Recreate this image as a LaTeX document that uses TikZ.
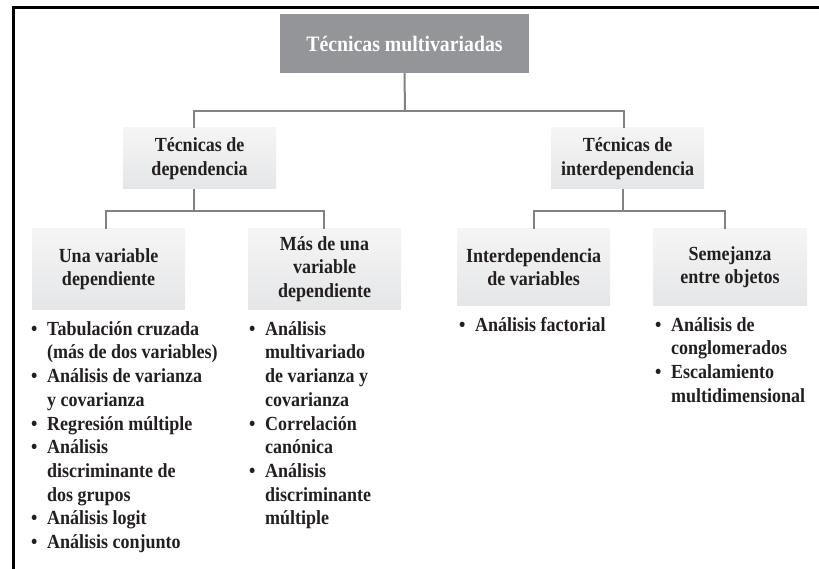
\documentclass[tikz,border=0pt]{standalone}
\usepackage{fontspec}
\setmainfont{Liberation Serif}[FakeStretch=0.9]
\usetikzlibrary{calc}
\definecolor{txt}{HTML}{231F20}
\definecolor{topfill}{HTML}{939598}
\definecolor{boxtop}{HTML}{F5F5F6}
\definecolor{boxbot}{HTML}{E5E6E7}
\definecolor{conn}{HTML}{808285}
\tikzset{
  topbox/.style={rectangle, fill=topfill, inner sep=0pt, minimum width=249pt, minimum height=59pt,
    text=white, font=\fontsize{22}{24}\selectfont\bfseries},
  catbox/.style={rectangle, top color=boxtop, bottom color=boxbot, inner sep=0pt, minimum width=153pt,
    align=center, text=txt, font=\fontsize{20}{23.5}\selectfont\bfseries},
  itemlist/.style={inner sep=0pt, anchor=north west, align=left, text=txt,
    font=\fontsize{20}{23.7}\selectfont\bfseries},
  connector/.style={draw=conn, line width=2pt},
  framebar/.style={draw=black, line width=2.2pt}
}
\newcommand{\bul}{\makebox[16pt][l]{•}}
\newcommand{\ind}{\hspace*{16pt}}
\newcommand{\firstline}{\rule{0pt}{15.5pt}}
\begin{document}
\begin{tikzpicture}[x=1pt,y=-1pt]
\useasboundingbox (0,0) rectangle (819,569);
% frame
\coordinate (fbl) at (13.5,569);
\coordinate (ftl) at (13.5,7.5);
\coordinate (ftr) at (819,7.5);
\draw[framebar] (fbl) -- (ftl) -- (ftr);

% boxes
\node[topbox] (top) at (404.5,43.5) {Técnicas multivariadas};
\node[catbox, minimum height=61pt] (dep) at (199.5,158.5) {Técnicas de\\dependencia};
\node[catbox, minimum height=61pt] (inter) at (627.5,158.5) {Técnicas de\\interdependencia};
\node[catbox, minimum height=80pt] (una) at (108.5,269) {Una variable\\dependiente};
\node[catbox, minimum height=80pt] (mas) at (324.5,269) {Más de una\\variable\\dependiente};
\node[catbox, minimum height=76pt] (ivar) at (533.5,267) {Interdependencia\\de variables};
\node[catbox, minimum height=76pt, minimum width=154pt] (sem) at (730,267) {Semejanza\\entre objetos};

% connectors
\coordinate (j1) at (405,111);
\coordinate (j2) at (194,211);
\coordinate (j3) at (622.5,211);
\draw[connector] (top.south) -- (j1);
\draw[connector] ([xshift=-5.5pt]dep.north) |- (j1) -| ([xshift=-4pt]inter.north);
\draw[connector] ([xshift=-5.5pt]dep.south) -- (j2);
\draw[connector] ([xshift=-2.5pt]una.north) |- (j2) -| ([xshift=-0.5pt]mas.north);
\draw[connector] ([xshift=-5pt]inter.south) -- (j3);
\draw[connector] ([xshift=0.5pt]ivar.north) |- (j3) -| ([xshift=-5pt]sem.north);

% bullet lists
\node[itemlist] (l1) at (31,319.5) {\firstline\bul Tabulación cruzada\\
\ind(más de dos variables)\\
\bul Análisis de varianza\\
\ind y covarianza\\
\bul Regresión múltiple\\
\bul Análisis\\
\ind discriminante de\\
\ind dos grupos\\
\bul Análisis logit\\
\bul Análisis conjunto};
\node[itemlist] (l2) at (249,319.5) {\firstline\bul Análisis\\
\ind multivariado\\
\ind de varianza y\\
\ind covarianza\\
\bul Correlación\\
\ind canónica\\
\bul Análisis\\
\ind discriminante\\
\ind múltiple};
\node[itemlist] (l3) at (459,315.5) {\firstline\bul Análisis factorial};
\node[itemlist] (l4) at (655,315.5) {\firstline\bul Análisis de\\
\ind conglomerados\\
\bul Escalamiento\\
\ind multidimensional};
\end{tikzpicture}
\end{document}
